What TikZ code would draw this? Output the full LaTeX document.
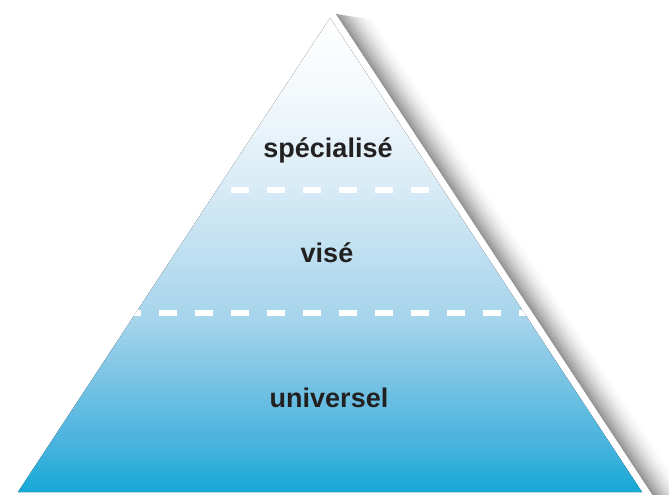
\documentclass[tikz,border=0pt]{standalone}
\usepackage{fontspec}
\setmainfont{Liberation Sans}

% colours of the vertical fill, from the base upwards
\definecolor{pyrA}{RGB}{22,168,214}
\definecolor{pyrB}{RGB}{75,180,222}
\definecolor{pyrC}{RGB}{120,195,228}
\definecolor{pyrD}{RGB}{165,212,235}
\definecolor{pyrE}{RGB}{192,224,241}
\definecolor{pyrF}{RGB}{218,236,246}
\definecolor{pyrG}{RGB}{242,248,252}
\definecolor{labelink}{RGB}{34,32,33}

\pgfdeclareverticalshading{pyramidfade}{100bp}{%
  color(0bp)=(pyrA); color(25bp)=(pyrA); color(30.5bp)=(pyrB);
  color(36.8bp)=(pyrC); color(43.1bp)=(pyrD); color(50.5bp)=(pyrE);
  color(57.9bp)=(pyrF); color(66.3bp)=(pyrG); color(75bp)=(white);
  color(100bp)=(white)}

\tikzset{
  level label/.style={font=\fontsize{27}{32}\selectfont\bfseries,
    text=labelink, anchor=base, inner sep=0pt},
  level divider/.style={white, line width=6pt,
    dash pattern=on 17.5pt off 18.5pt},
  rim/.style={white, line width=14pt, line join=miter}
}

\begin{document}
\begin{tikzpicture}[x=1pt, y=-1pt]
  \useasboundingbox (0,0) rectangle (669,495);

  \coordinate (apex) at (330,18);
  \coordinate (bl) at (18,492);
  \coordinate (br) at (642,492);

  % soft shadow along the right-hand side, tapering in near the top
  \begin{scope}[shift={(apex)}, rotate=-56.64]
    \foreach \i in {0,...,30} {
      \pgfmathsetmacro\shd{46*(1-\i/30)^1.7}
      \pgfmathsetmacro\st{0.9*\i}
      \draw[line width=1.15pt, black!\shd] (\st pt,\i pt+7pt) -- (600pt,\i pt+7pt);
    }
  \end{scope}

  % white rim, then the graded body
  \draw[rim] (apex) -- (br) -- (bl) -- cycle;
  \fill[shading=pyramidfade] (apex) -- (br) -- (bl) -- cycle;

  % dashed dividers between the levels
  \begin{scope}
    \clip (apex) -- (br) -- (bl) -- cycle;
    \coordinate (d1a) at (123.25,190);
    \coordinate (d1b) at (580,190);
    \coordinate (d2a) at (123.25,313);
    \coordinate (d2b) at (580,313);
    \draw[level divider] (d1a) -- (d1b);
    \draw[level divider] (d2a) -- (d2b);
  \end{scope}

  \node[level label] (top) at (328,157) {spécialisé};
  \node[level label] (mid) at (327,262) {visé};
  \node[level label] (low) at (329,407) {universel};
\end{tikzpicture}
\end{document}
